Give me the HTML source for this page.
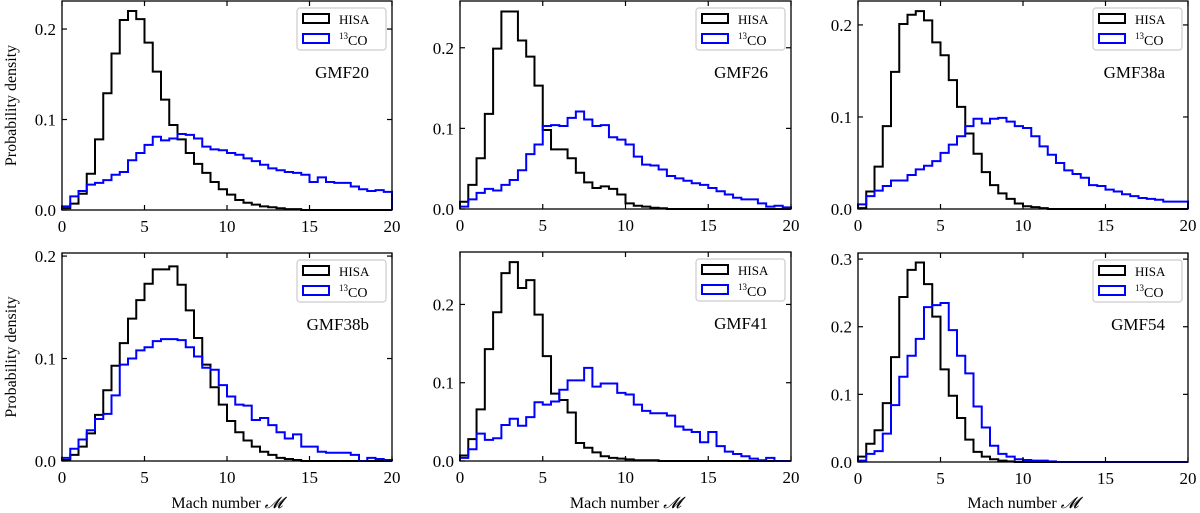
<!DOCTYPE html>
<html><head><meta charset="utf-8"><style>
html,body{margin:0;padding:0;background:#fff;}
svg{display:block;font-family:"Liberation Serif",serif;}
</style></head><body>
<svg id="fig" width="1200" height="513" viewBox="0 0 1200 513" xmlns="http://www.w3.org/2000/svg"></svg>
<script>
const panelNames = ["GMF20","GMF26","GMF38a","GMF38b","GMF41","GMF54"];
const xTicks = [0,5,10,15,20];
const yTicks1 = [0,0.1,0.2];
const yTicks6 = [0,0.1,0.2,0.3];
const binWidth = 0.5;
const hisa20 = [0.002,0.007,0.018,0.04,0.078,0.129,0.173,0.21,0.22,0.211,0.185,0.153,0.122,0.094,0.078,0.063,0.051,0.041,0.031,0.023,0.017,0.011,0.008,0.006,0.004,0.003,0.002,0.001,0.001,0,0,0,0,0,0,0,0,0,0,0];
const co20 = [0.004,0.015,0.021,0.028,0.030,0.033,0.039,0.042,0.055,0.063,0.072,0.081,0.077,0.079,0.084,0.083,0.079,0.070,0.067,0.066,0.063,0.061,0.057,0.054,0.050,0.046,0.044,0.042,0.041,0.039,0.031,0.036,0.031,0.030,0.030,0.026,0.023,0.021,0.022,0.020];
const hisa26 = [0.009,0.030,0.063,0.118,0.199,0.245,0.245,0.209,0.189,0.153,0.098,0.074,0.074,0.063,0.045,0.033,0.026,0.028,0.025,0.018,0.007,0.004,0.003,0.0015,0.001,0,0,0,0,0,0,0,0,0,0,0,0,0,0,0];
const co26 = [0.003,0.012,0.020,0.025,0.023,0.030,0.036,0.048,0.068,0.080,0.103,0.104,0.103,0.113,0.121,0.111,0.103,0.104,0.089,0.086,0.080,0.065,0.055,0.054,0.049,0.041,0.038,0.035,0.032,0.030,0.026,0.022,0.018,0.014,0.012,0.012,0.007,0.003,0.004,0.002];
const hisa38a = [0.001,0.019,0.046,0.090,0.149,0.201,0.211,0.215,0.205,0.181,0.167,0.140,0.111,0.082,0.060,0.040,0.026,0.017,0.011,0.006,0.003,0.002,0.001,0,0,0,0,0,0,0,0,0,0,0,0,0,0,0,0,0];
const co38a = [0.005,0.014,0.020,0.025,0.031,0.031,0.037,0.043,0.047,0.052,0.061,0.070,0.079,0.090,0.098,0.093,0.098,0.099,0.095,0.090,0.088,0.079,0.068,0.059,0.050,0.042,0.038,0.034,0.026,0.025,0.021,0.019,0.016,0.014,0.012,0.011,0.010,0.008,0.008,0.008];
const hisa38b = [0.001,0.006,0.014,0.027,0.045,0.069,0.093,0.115,0.139,0.157,0.173,0.187,0.187,0.190,0.172,0.147,0.120,0.094,0.072,0.055,0.039,0.028,0.020,0.014,0.009,0.006,0.003,0.002,0.001,0,0,0,0,0,0,0,0,0,0,0];
const co38b = [0.003,0.012,0.021,0.030,0.041,0.046,0.064,0.094,0.100,0.108,0.111,0.117,0.119,0.119,0.118,0.111,0.102,0.091,0.089,0.074,0.063,0.055,0.054,0.040,0.042,0.035,0.028,0.022,0.026,0.014,0.014,0.009,0.008,0.008,0.008,0.006,0,0.003,0.002,0.001];
const hisa41 = [0.007,0.028,0.066,0.143,0.190,0.240,0.254,0.221,0.231,0.187,0.134,0.086,0.078,0.062,0.023,0.017,0.011,0.006,0.004,0.003,0.002,0.001,0.001,0.001,0,0,0,0,0,0,0,0,0,0,0,0,0,0,0,0];
const co41 = [0.004,0.015,0.035,0.027,0.029,0.046,0.054,0.045,0.056,0.075,0.072,0.076,0.091,0.103,0.103,0.119,0.095,0.099,0.099,0.087,0.085,0.072,0.064,0.061,0.061,0.058,0.044,0.040,0.037,0.024,0.037,0.019,0.012,0.009,0.006,0.003,0.001,0.004,0,0];
const hisa54 = [0.008,0.027,0.047,0.087,0.155,0.244,0.284,0.295,0.263,0.215,0.137,0.098,0.065,0.033,0.015,0.008,0.004,0.002,0.001,0,0,0,0,0,0,0,0,0,0,0,0,0,0,0,0,0,0,0,0,0];
const co54 = [0.002,0.012,0.016,0.042,0.084,0.126,0.157,0.182,0.229,0.232,0.235,0.195,0.157,0.131,0.082,0.051,0.024,0.012,0.008,0.004,0.003,0.002,0.002,0.001,0,0,0,0,0,0,0,0,0,0,0,0,0,0,0,0];
const hisaSeries = [hisa20,hisa26,hisa38a,hisa38b,hisa41,hisa54];
const coSeries = [co20,co26,co38a,co38b,co41,co54];
const yMaxes = [0.231,0.258,0.226,0.203,0.267,0.309];

const NS="http://www.w3.org/2000/svg";
const svg=document.getElementById('fig');
function mk(tag,attrs,parent){const e=document.createElementNS(NS,tag);for(const k in attrs)e.setAttribute(k,attrs[k]);(parent||svg).appendChild(e);return e;}
const geo=[[62,392,1,210],[460,791,1,209],[858,1188,1,209],[62,392,253,461],[460,791,252,461],[858,1188,253,462]];

panelNames.forEach((name,i)=>{
  const [x0,x1,yt,yb]=geo[i];
  const ymax=yMaxes[i];
  const g=mk('g',{});
  
  
  const sx=v=>x0+(v/20)*(x1-x0);
  const sy=v=>yb-(v/ymax)*(yb-yt);
  function step(arr,color,nm){
    let d='M'+sx(0)+','+sy(0);
    arr.forEach((v,k)=>{d+=' L'+sx(k*binWidth)+','+sy(v)+' L'+sx((k+1)*binWidth)+','+sy(v);});
    d+=' L'+sx(20)+','+sy(0);
    const p=mk('path',{d:d,fill:'none',stroke:color,'stroke-width':2,'stroke-linejoin':'miter'},g);
    
    
  }
  step(hisaSeries[i],'#000','hisa-histogram');
  step(coSeries[i],'#0000ff','co-histogram');
  // frame
  const fr=mk('rect',{x:x0,y:yt,width:x1-x0,height:yb-yt,fill:'none',stroke:'#000','stroke-width':1.3},g);
  
  
  xTicks.forEach(t=>{
    const x=sx(t);
    mk('line',{x1:x,x2:x,y1:yb,y2:yb-5,stroke:'#000','stroke-width':1.2},g);
    mk('line',{x1:x,x2:x,y1:yt,y2:yt+5,stroke:'#000','stroke-width':1.2},g);
    const tx=mk('text',{x:x,y:yb+22,'font-size':17,'text-anchor':'middle',fill:'#000'},g);
    tx.textContent=t;
    
    
  });
  const yt_=i===5?yTicks6:yTicks1;
  yt_.forEach(t=>{
    const y=sy(t);
    mk('line',{x1:x0,x2:x0+5,y1:y,y2:y,stroke:'#000','stroke-width':1.2},g);
    mk('line',{x1:x1,x2:x1-5,y1:y,y2:y,stroke:'#000','stroke-width':1.2},g);
    const tx=mk('text',{x:x0-6,y:y+6,'font-size':17,'text-anchor':'end',fill:'#000'},g);
    tx.textContent=t.toFixed(1);
    
    
  });
  // legend
  const lx=x1-95, ly=yt+7;
  const lg=mk('g',{},g);
  
  
  mk('rect',{x:lx,y:ly,width:89,height:42,rx:3,fill:'#fff',stroke:'#ccc','stroke-width':1.2},lg);
  mk('rect',{x:lx+6,y:ly+6,width:26,height:9,fill:'none',stroke:'#000','stroke-width':2},lg);
  mk('rect',{x:lx+6,y:ly+26,width:26,height:9,fill:'none',stroke:'#0000ff','stroke-width':2},lg);
  const t1=mk('text',{x:lx+42,y:ly+16,'font-size':13,fill:'#000'},lg);
  t1.textContent='HISA';
  
  
  const t2=mk('text',{x:lx+42,y:ly+37,'font-size':14,fill:'#000'},lg);
  t2.innerHTML='<tspan font-size="9" dy="-6">13</tspan><tspan dy="6">CO</tspan>';
  
  
  const nl=mk('text',{x:x1-23,y:yt+77,'font-size':17,'text-anchor':'end',fill:'#000'},g);
  nl.textContent=name;
  
  
  if(i>=3){
    const xl=mk('text',{x:(x0+x1)/2,y:508,'font-size':16,'text-anchor':'middle',fill:'#000'},g);
    xl.innerHTML='Mach number <tspan font-style="italic">𝓜</tspan>';
    
    
  }
  if(i===0||i===3){
    const cy=(yt+yb)/2;
    const yl=mk('text',{x:16,y:cy,'font-size':16,'text-anchor':'middle',fill:'#000',transform:'rotate(-90 16 '+cy+')'},g);
    yl.textContent='Probability density';
    
    
  }
});
</script>
</body></html>
